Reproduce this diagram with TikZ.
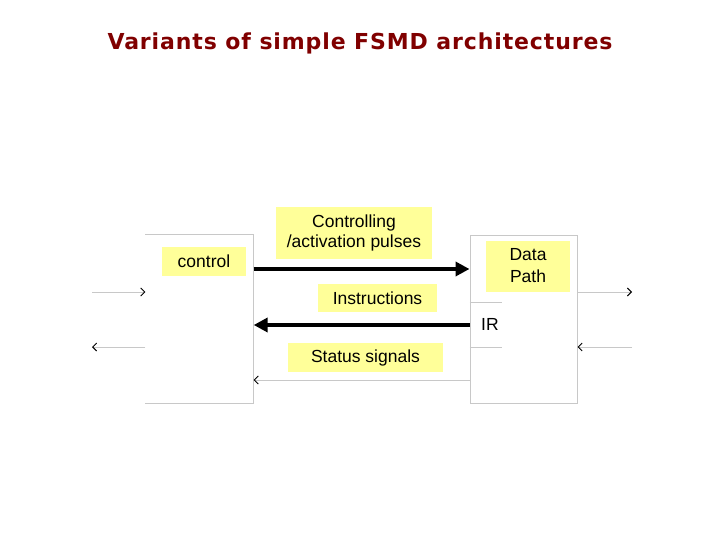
\documentclass[tikz,border=0pt]{standalone}
\usepackage{fontspec}
\setmainfont{Liberation Sans}
\newfontfamily\titlefont[LetterSpace=4]{DejaVu Sans}
\usetikzlibrary{arrows.meta,positioning}
\definecolor{notefill}{RGB}{255,255,153}
\definecolor{titlered}{RGB}{128,0,0}
\definecolor{boxgray}{RGB}{200,200,200}

\begin{document}
\begin{tikzpicture}[
    x=1pt, y=-1pt,
    every node/.style={font=\fontsize{17.5}{20}\selectfont, inner sep=0pt},
    note/.style={fill=notefill, align=center},
    unit/.style={minimum width=108pt, minimum height=168pt},
    thinline/.style={draw=boxgray, line width=1pt},
    bus/.style={-{Triangle[length=14pt,width=14pt]}, line width=4pt},
    signal/.style={draw=boxgray, line width=0.9pt, -{Straight Barb[length=4pt,width=8pt,black]}}
]
\useasboundingbox (0,0) rectangle (720,540);
\node[anchor=base, text=titlered, font=\titlefont\bfseries\fontsize{22}{24}\selectfont] (title) at (360,50) {Variants of simple FSMD architectures};

% the two units
\node[unit] (ctrl) at (199.5,319) {};
\node[unit, draw=boxgray, line width=1pt, minimum width=107pt] (dp) at (523.5,319) {};
\draw[thinline] (ctrl.north west) -- (ctrl.north east) -- (ctrl.south east) -- (ctrl.south west);

% labels
\node[note, minimum width=84pt, minimum height=29pt] (ctrllabel) at (204,261) {control};
\node[note, minimum width=84pt, minimum height=51pt, font=\fontsize{17.5}{22}\selectfont] (dplabel) at (528,266) {Data\\Path};
\node[note, minimum width=156pt, minimum height=51pt] (pulses) at (354,233) {Controlling\\/activation pulses};
\node[note, minimum width=119pt, minimum height=28pt] (instr) at (377.5,298) {Instructions};
\node[note, minimum width=155pt, minimum height=29pt] (status) at (365.5,357.5) {Status signals};

% instruction register
\draw[thinline] ([yshift=17pt]dp.west) -- ++(32,0);
\draw[thinline] ([yshift=-28pt]dp.west) -- ++(32,0);
\node[anchor=west] (ir) at (481,324) {IR};

% connections between the units
\draw[bus] ([yshift=50pt]ctrl.east) -- ([yshift=50pt]dp.west);
\draw[bus] ([yshift=-6pt]dp.west) -- ([yshift=-6pt]ctrl.east);
\draw[signal] ([yshift=-61pt]dp.west) -- ([yshift=-61pt]ctrl.east);

% outside inputs and outputs
\coordinate (ctrlin) at (92,292);
\coordinate (ctrlout) at (92,347);
\coordinate (dpout) at (632,292);
\coordinate (dpin) at (632,347);
\draw[signal] (ctrlin) -- ([yshift=27pt]ctrl.west);
\draw[signal] ([yshift=-28pt]ctrl.west) -- (ctrlout);
\draw[signal] ([yshift=27pt]dp.east) -- (dpout);
\draw[signal] (dpin) -- ([yshift=-28pt]dp.east);
\end{tikzpicture}
\end{document}
